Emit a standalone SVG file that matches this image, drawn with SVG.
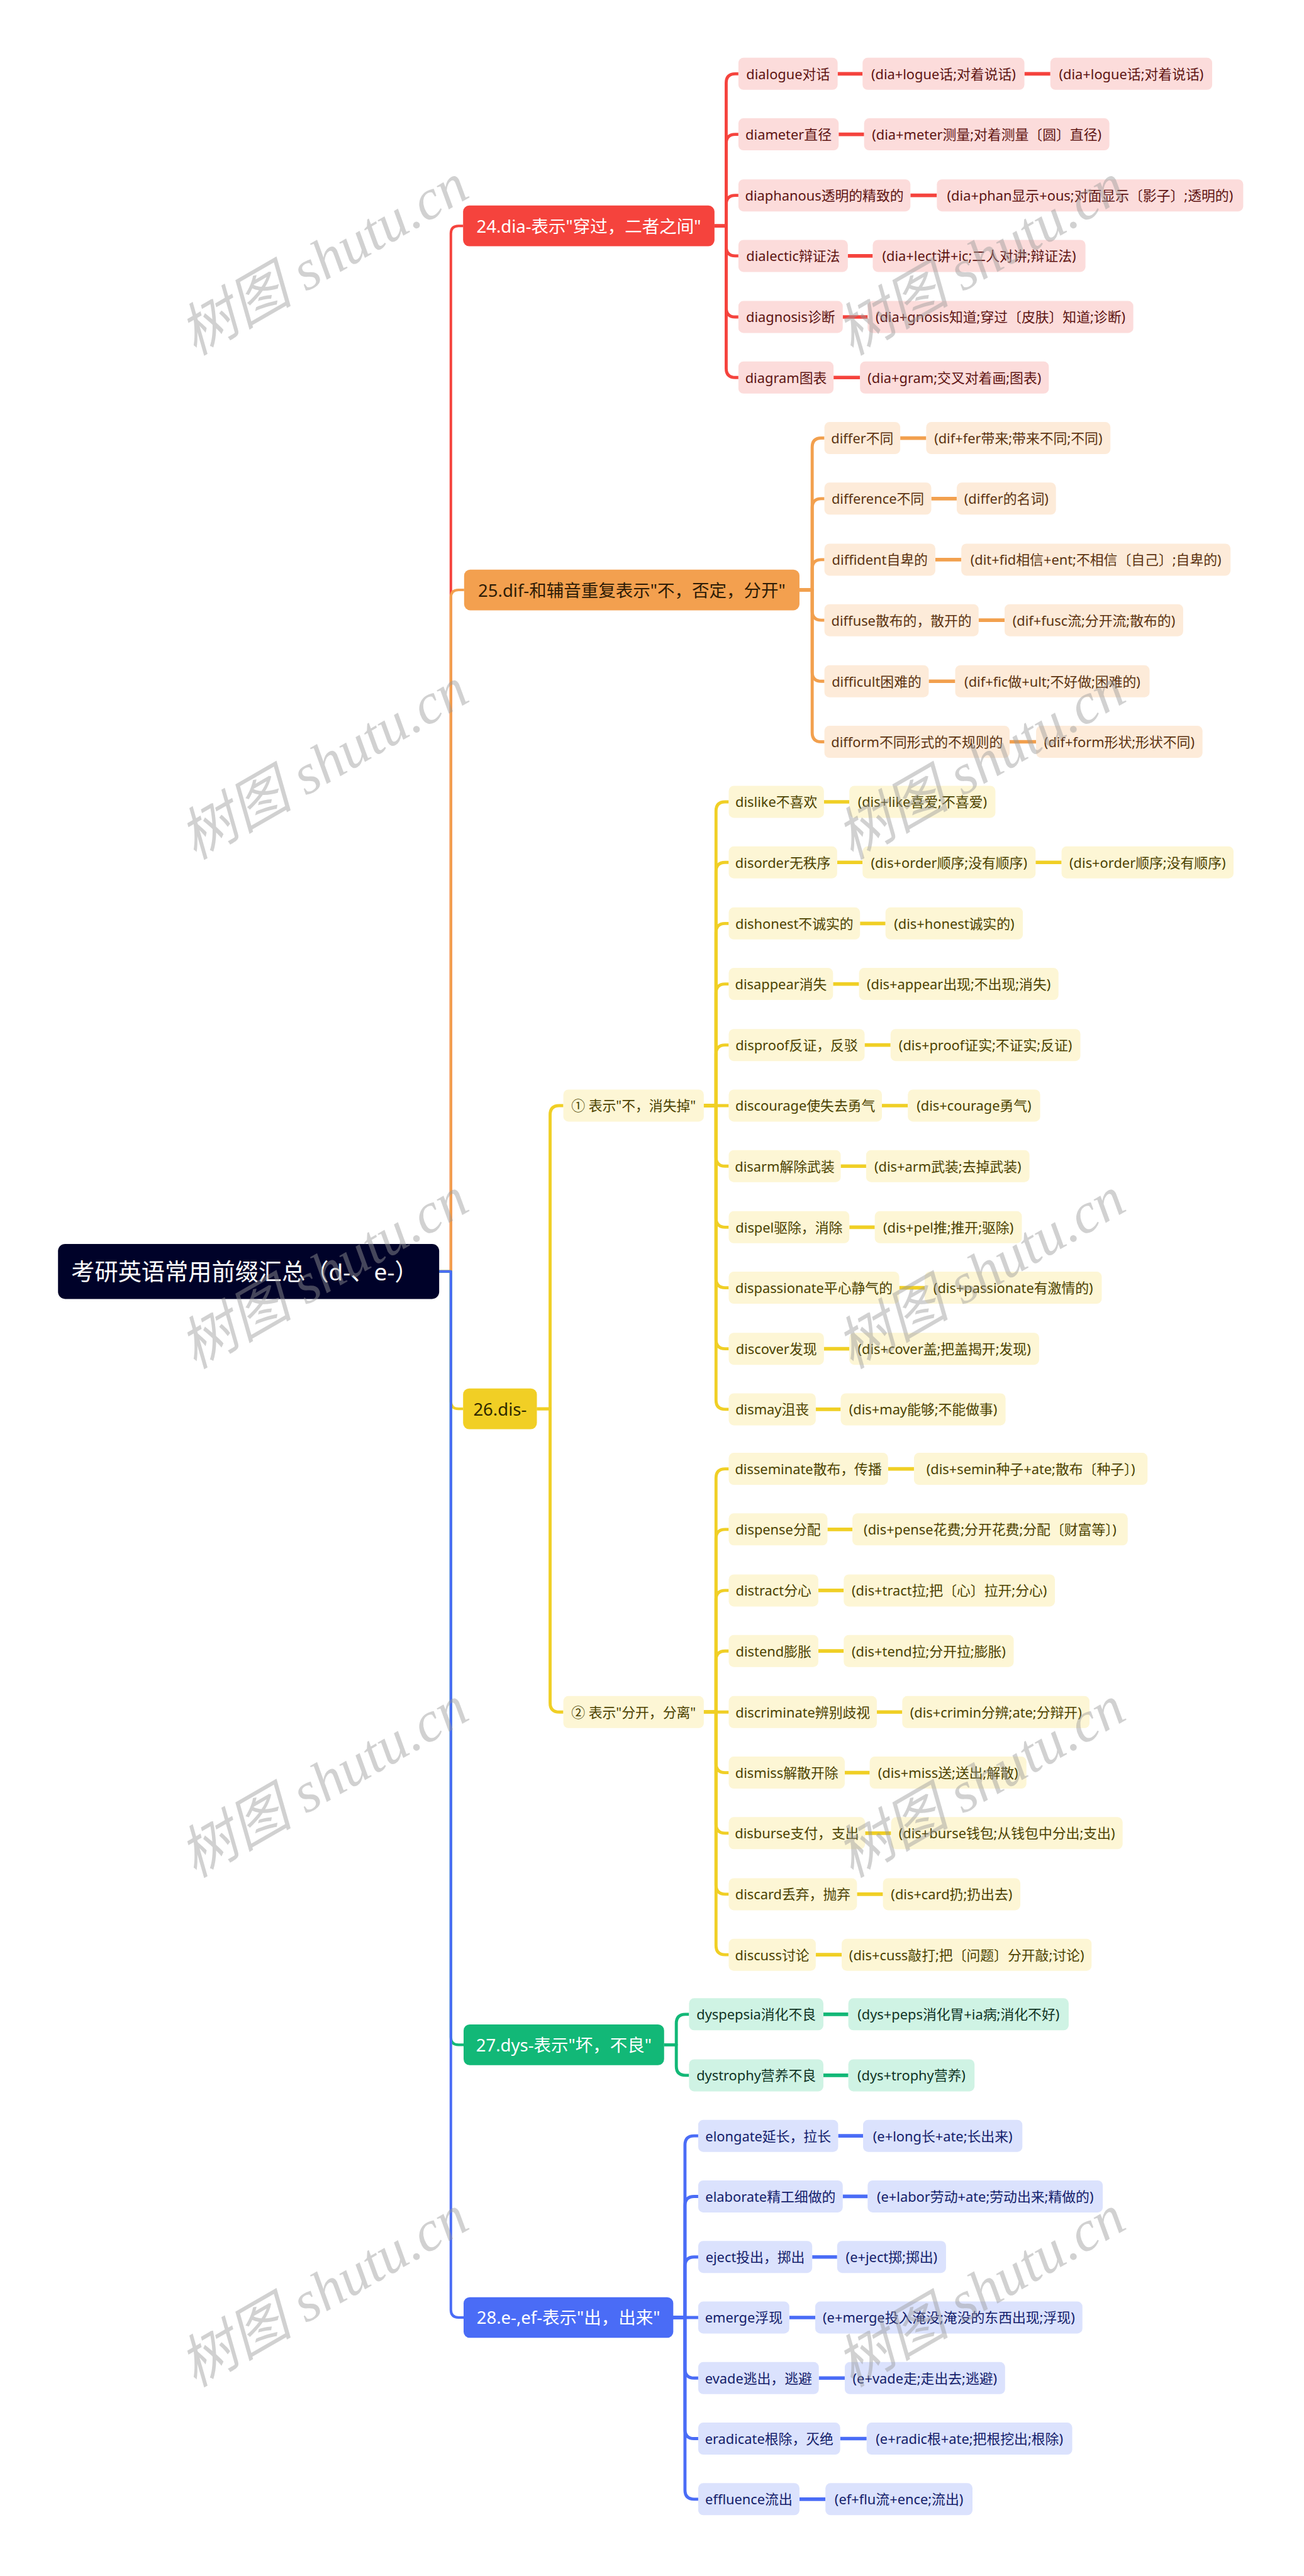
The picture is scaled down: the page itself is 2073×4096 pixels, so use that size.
<svg xmlns="http://www.w3.org/2000/svg" width="2073" height="4096" viewBox="0 0 2073 4096">
<style>
text{font-family:"Noto Sans","Noto Sans CJK SC",sans-serif;dominant-baseline:central;text-anchor:middle;}
.lf text{font-size:27px;}
.lf rect{rx:10px;ry:10px;}
.h1 text{font-size:34px;}
.h1 rect{rx:12px;ry:12px;}
.r rect{fill:#fcdcdb}.r text{fill:#5e1412}
.o rect{fill:#fdebd9}.o text{fill:#5c3310}
.y rect{fill:#fdf6d5}.y text{fill:#4c4200}
.g rect{fill:#cff3e4}.g text{fill:#0f3324}
.b rect{fill:#dbe2fd}.b text{fill:#13206b}
.c{fill:none;stroke-linecap:butt;stroke-linejoin:round}
.c path{stroke-width:6}
.c .t{stroke-width:5}
.c .h{stroke-width:7}
.cr{stroke:#f5433d}.co{stroke:#f2a04e}.cy{stroke:#f0cf25}.cg{stroke:#12b877}.cb{stroke:#4a6cf6}
.wm text{font-family:"Liberation Serif","Noto Sans CJK SC",serif;font-style:italic;font-size:112px;fill:#9a9a9a;fill-opacity:.45}
</style>
<rect width="2073" height="4096" fill="#fff"/>
<g transform="scale(0.809)">
<g id="connectors" class="c">
<g class="cr">
<path class="t" d="M863 2499H886V459Q886 444 901 444H910"/>
<path d="M1404 444H1427V163Q1427 145 1445 145H1451"/>
<path d="M1404 444H1427V282Q1427 264 1445 264H1451"/>
<path d="M1404 444H1427V402Q1427 384 1445 384H1451"/>
<path d="M1404 444H1427V485Q1427 503 1445 503H1451"/>
<path d="M1404 444H1427V605Q1427 623 1445 623H1451"/>
<path d="M1404 444H1427V724Q1427 742 1445 742H1451"/>
<path class="h" d="M1646 145H1695M2013 145H2064M1648 264H1698M1789 384H1841M1666 503H1715M1656 623H1705M1638 742H1690"/>
</g>
<g class="co">
<path class="t" d="M863 2499H886V1174.5Q886 1159.5 901 1159.5H912"/>
<path d="M1571 1159.5H1596V879Q1596 861 1614 861H1620"/>
<path d="M1571 1159.5H1596V998Q1596 980 1614 980H1620"/>
<path d="M1571 1159.5H1596V1118Q1596 1100 1614 1100H1620"/>
<path d="M1571 1159.5H1596V1201Q1596 1219 1614 1219H1620"/>
<path d="M1571 1159.5H1596V1321Q1596 1339 1614 1339H1620"/>
<path d="M1571 1159.5H1596V1440Q1596 1458 1614 1458H1620"/>
<path class="h" d="M1769 861H1820M1830 980H1880M1838 1100H1889M1923 1219H1974M1825 1339H1877M1984 1458H2036"/>
</g>
<g class="cy">
<path class="t" d="M863 2499H886V2754Q886 2769 901 2769H910"/>
<path d="M1055 2769H1081V2191Q1081 2173 1099 2173H1107"/>
<path d="M1055 2769H1081V3347Q1081 3365 1099 3365H1107"/>
<path d="M1383 2173H1407V1594Q1407 1576 1425 1576H1432"/>
<path d="M1383 2173H1407V1713Q1407 1695 1425 1695H1432"/>
<path d="M1383 2173H1407V1833Q1407 1815 1425 1815H1432"/>
<path d="M1383 2173H1407V1952Q1407 1934 1425 1934H1432"/>
<path d="M1383 2173H1407V2072Q1407 2054 1425 2054H1432"/>
<path d="M1383 2173H1432"/>
<path d="M1383 2173H1407V2274Q1407 2292 1425 2292H1432"/>
<path d="M1383 2173H1407V2394Q1407 2412 1425 2412H1432"/>
<path d="M1383 2173H1407V2513Q1407 2531 1425 2531H1432"/>
<path d="M1383 2173H1407V2633Q1407 2651 1425 2651H1432"/>
<path d="M1383 2173H1407V2752Q1407 2770 1425 2770H1432"/>
<path d="M1383 3365H1407V2905Q1407 2887 1425 2887H1432"/>
<path d="M1383 3365H1407V3024Q1407 3006 1425 3006H1432"/>
<path d="M1383 3365H1407V3144Q1407 3126 1425 3126H1432"/>
<path d="M1383 3365H1407V3263Q1407 3245 1425 3245H1432"/>
<path d="M1383 3365H1432"/>
<path d="M1383 3365H1407V3466Q1407 3484 1425 3484H1432"/>
<path d="M1383 3365H1407V3585Q1407 3603 1425 3603H1432"/>
<path d="M1383 3365H1407V3705Q1407 3723 1425 3723H1432"/>
<path d="M1383 3365H1407V3824Q1407 3842 1425 3842H1432"/>
<path class="h" d="M1619 1576H1669M1645 1695H1695M2035 1695H2086M1690 1815H1740M1637 1934H1688M1699 2054H1750M1733 2173H1784M1652 2292H1702M1669 2412H1719M1767 2531H1817M1619 2651H1669M1603 2770H1652"/>
<path class="h" d="M1745 2887H1796M1626 3006H1675M1608 3126H1658M1608 3245H1658M1723 3365H1773M1660 3484H1709M1700 3603H1751M1684 3723H1735M1603 3842H1654"/>
</g>
<g class="cg">
<path class="t" d="M863 2499H886V4004Q886 4019 901 4019H911"/>
<path d="M1305 4019H1329V3977Q1329 3959 1347 3959H1354"/>
<path d="M1305 4019H1329V4061Q1329 4079 1347 4079H1354"/>
<path class="h" d="M1618 3959H1667M1618 4079H1667"/>
</g>
<g class="cb">
<path class="t" d="M863 2499H886V4540Q886 4555 901 4555H911"/>
<path d="M1323 4555H1346V4216Q1346 4198 1364 4198H1372"/>
<path d="M1323 4555H1346V4335Q1346 4317 1364 4317H1372"/>
<path d="M1323 4555H1346V4454Q1346 4436 1364 4436H1372"/>
<path d="M1323 4555H1372"/>
<path d="M1323 4555H1346V4656Q1346 4674 1364 4674H1372"/>
<path d="M1323 4555H1346V4775Q1346 4793 1364 4793H1372"/>
<path d="M1323 4555H1346V4894Q1346 4912 1364 4912H1372"/>
<path class="h" d="M1647 4198H1696M1656 4317H1705M1596 4436H1645M1551 4555H1602M1609 4674H1660M1651 4793H1703M1571 4912H1622"/>
</g>
</g>

<g id="root"><rect x="114" y="2445" width="749" height="108" rx="14" fill="#000229"/><text x="140" y="2499" style="font-size:46px;fill:#fff;text-anchor:start">考研英语常用前缀汇总（d-、e-）</text></g>

<g id="n24" class="h1"><rect x="910" y="404" width="494" height="80" fill="#f5433d"/><text x="1157" y="444" fill="#fff">24.dia-表示"穿过，二者之间"</text></g>
<g id="n25" class="h1"><rect x="912" y="1119.5" width="659" height="80" fill="#f3a04f"/><text x="1241.5" y="1159.5" fill="#2e1c06">25.dif-和辅音重复表示"不，否定，分开"</text></g>
<g id="n26" class="h1"><rect x="910" y="2729" width="145" height="80" fill="#f1cf25"/><text x="982.5" y="2769" fill="#2f2a00">26.dis-</text></g>
<g id="n27" class="h1"><rect x="911" y="3979" width="394" height="80" fill="#12b877"/><text x="1108" y="4019" fill="#fff">27.dys-表示"坏，不良"</text></g>
<g id="n28" class="h1"><rect x="911" y="4515" width="412" height="80" fill="#4a6cf6"/><text x="1117" y="4555" fill="#fff">28.e-,ef-表示"出，出来"</text></g>

<!-- dia -->
<g id="dialogue" class="lf r"><rect x="1451" y="113.5" width="195" height="63"/><text x="1548.5" y="145">dialogue对话</text></g>
<g id="dialogue-a" class="lf r"><rect x="1695" y="113.5" width="318" height="63"/><text x="1854" y="145">(dia+logue话;对着说话)</text></g>
<g id="dialogue-b" class="lf r"><rect x="2064" y="113.5" width="318" height="63"/><text x="2223" y="145">(dia+logue话;对着说话)</text></g>
<g id="diameter" class="lf r"><rect x="1451" y="232.5" width="197" height="63"/><text x="1549.5" y="264">diameter直径</text></g>
<g id="diameter-a" class="lf r"><rect x="1698" y="232.5" width="482" height="63"/><text x="1939" y="264">(dia+meter测量;对着测量〔圆〕直径)</text></g>
<g id="diaphanous" class="lf r"><rect x="1451" y="352.5" width="338" height="63"/><text x="1620" y="384">diaphanous透明的精致的</text></g>
<g id="diaphanous-a" class="lf r"><rect x="1841" y="352.5" width="602" height="63"/><text x="2142" y="384">(dia+phan显示+ous;对面显示〔影子〕;透明的)</text></g>
<g id="dialectic" class="lf r"><rect x="1451" y="471.5" width="215" height="63"/><text x="1558.5" y="503">dialectic辩证法</text></g>
<g id="dialectic-a" class="lf r"><rect x="1715" y="471.5" width="418" height="63"/><text x="1924" y="503">(dia+lect讲+ic;二人对讲;辩证法)</text></g>
<g id="diagnosis" class="lf r"><rect x="1451" y="591.5" width="205" height="63"/><text x="1553.5" y="623">diagnosis诊断</text></g>
<g id="diagnosis-a" class="lf r"><rect x="1705" y="591.5" width="522" height="63"/><text x="1966" y="623">(dia+gnosis知道;穿过〔皮肤〕知道;诊断)</text></g>
<g id="diagram" class="lf r"><rect x="1451" y="710.5" width="187" height="63"/><text x="1544.5" y="742">diagram图表</text></g>
<g id="diagram-a" class="lf r"><rect x="1690" y="710.5" width="371" height="63"/><text x="1875.5" y="742">(dia+gram;交叉对着画;图表)</text></g>

<!-- dif -->
<g id="differ" class="lf o"><rect x="1620" y="829.5" width="149" height="63"/><text x="1694.5" y="861">differ不同</text></g>
<g id="differ-a" class="lf o"><rect x="1820" y="829.5" width="362" height="63"/><text x="2001" y="861">(dif+fer带来;带来不同;不同)</text></g>
<g id="difference" class="lf o"><rect x="1620" y="948.5" width="210" height="63"/><text x="1725" y="980">difference不同</text></g>
<g id="difference-a" class="lf o"><rect x="1880" y="948.5" width="195" height="63"/><text x="1977.5" y="980">(differ的名词)</text></g>
<g id="diffident" class="lf o"><rect x="1620" y="1068.5" width="218" height="63"/><text x="1729" y="1100">diffident自卑的</text></g>
<g id="diffident-a" class="lf o"><rect x="1889" y="1068.5" width="529" height="63"/><text x="2153.5" y="1100">(dit+fid相信+ent;不相信〔自己〕;自卑的)</text></g>
<g id="diffuse" class="lf o"><rect x="1620" y="1187.5" width="303" height="63"/><text x="1771.5" y="1219">diffuse散布的，散开的</text></g>
<g id="diffuse-a" class="lf o"><rect x="1974" y="1187.5" width="351" height="63"/><text x="2149.5" y="1219">(dif+fusc流;分开流;散布的)</text></g>
<g id="difficult" class="lf o"><rect x="1620" y="1307.5" width="205" height="63"/><text x="1722.5" y="1339">difficult困难的</text></g>
<g id="difficult-a" class="lf o"><rect x="1877" y="1307.5" width="382" height="63"/><text x="2068" y="1339">(dif+fic做+ult;不好做;困难的)</text></g>
<g id="difform" class="lf o"><rect x="1620" y="1426.5" width="364" height="63"/><text x="1802" y="1458">difform不同形式的不规则的</text></g>
<g id="difform-a" class="lf o"><rect x="2036" y="1426.5" width="327" height="63"/><text x="2199.5" y="1458">(dif+form形状;形状不同)</text></g>

<!-- dis -->
<g id="dis-1" class="lf y"><rect x="1107" y="2141.5" width="276" height="63"/><text x="1245" y="2173">① 表示"不，消失掉"</text></g>
<g id="dis-2" class="lf y"><rect x="1107" y="3333.5" width="276" height="63"/><text x="1245" y="3365">② 表示"分开，分离"</text></g>

<g id="dislike" class="lf y"><rect x="1432" y="1544.5" width="187" height="63"/><text x="1525.5" y="1576">dislike不喜欢</text></g>
<g id="dislike-a" class="lf y"><rect x="1669" y="1544.5" width="287" height="63"/><text x="1812.5" y="1576">(dis+like喜爱;不喜爱)</text></g>
<g id="disorder" class="lf y"><rect x="1432" y="1663.5" width="213" height="63"/><text x="1538.5" y="1695">disorder无秩序</text></g>
<g id="disorder-a" class="lf y"><rect x="1695" y="1663.5" width="340" height="63"/><text x="1865" y="1695">(dis+order顺序;没有顺序)</text></g>
<g id="disorder-b" class="lf y"><rect x="2086" y="1663.5" width="338" height="63"/><text x="2255" y="1695">(dis+order顺序;没有顺序)</text></g>
<g id="dishonest" class="lf y"><rect x="1432" y="1783.5" width="258" height="63"/><text x="1561" y="1815">dishonest不诚实的</text></g>
<g id="dishonest-a" class="lf y"><rect x="1740" y="1783.5" width="270" height="63"/><text x="1875" y="1815">(dis+honest诚实的)</text></g>
<g id="disappear" class="lf y"><rect x="1432" y="1902.5" width="205" height="63"/><text x="1534.5" y="1934">disappear消失</text></g>
<g id="disappear-a" class="lf y"><rect x="1688" y="1902.5" width="392" height="63"/><text x="1884" y="1934">(dis+appear出现;不出现;消失)</text></g>
<g id="disproof" class="lf y"><rect x="1432" y="2022.5" width="267" height="63"/><text x="1565.5" y="2054">disproof反证，反驳</text></g>
<g id="disproof-a" class="lf y"><rect x="1750" y="2022.5" width="373" height="63"/><text x="1936.5" y="2054">(dis+proof证实;不证实;反证)</text></g>
<g id="discourage" class="lf y"><rect x="1432" y="2141.5" width="301" height="63"/><text x="1582.5" y="2173">discourage使失去勇气</text></g>
<g id="discourage-a" class="lf y"><rect x="1784" y="2141.5" width="260" height="63"/><text x="1914" y="2173">(dis+courage勇气)</text></g>
<g id="disarm" class="lf y"><rect x="1432" y="2260.5" width="220" height="63"/><text x="1542" y="2292">disarm解除武装</text></g>
<g id="disarm-a" class="lf y"><rect x="1702" y="2260.5" width="321" height="63"/><text x="1862.5" y="2292">(dis+arm武装;去掉武装)</text></g>
<g id="dispel" class="lf y"><rect x="1432" y="2380.5" width="237" height="63"/><text x="1550.5" y="2412">dispel驱除，消除</text></g>
<g id="dispel-a" class="lf y"><rect x="1719" y="2380.5" width="289" height="63"/><text x="1863.5" y="2412">(dis+pel推;推开;驱除)</text></g>
<g id="dispassionate" class="lf y"><rect x="1432" y="2499.5" width="335" height="63"/><text x="1599.5" y="2531">dispassionate平心静气的</text></g>
<g id="dispassionate-a" class="lf y"><rect x="1817" y="2499.5" width="348" height="63"/><text x="1991" y="2531">(dis+passionate有激情的)</text></g>
<g id="discover" class="lf y"><rect x="1432" y="2619.5" width="187" height="63"/><text x="1525.5" y="2651">discover发现</text></g>
<g id="discover-a" class="lf y"><rect x="1669" y="2619.5" width="373" height="63"/><text x="1855.5" y="2651">(dis+cover盖;把盖揭开;发现)</text></g>
<g id="dismay" class="lf y"><rect x="1432" y="2738.5" width="171" height="63"/><text x="1517.5" y="2770">dismay沮丧</text></g>
<g id="dismay-a" class="lf y"><rect x="1652" y="2738.5" width="324" height="63"/><text x="1814" y="2770">(dis+may能够;不能做事)</text></g>

<g id="disseminate" class="lf y"><rect x="1432" y="2855.5" width="313" height="63"/><text x="1588.5" y="2887">disseminate散布，传播</text></g>
<g id="disseminate-a" class="lf y"><rect x="1796" y="2855.5" width="459" height="63"/><text x="2025.5" y="2887">(dis+semin种子+ate;散布〔种子〕)</text></g>
<g id="dispense" class="lf y"><rect x="1432" y="2974.5" width="194" height="63"/><text x="1529" y="3006">dispense分配</text></g>
<g id="dispense-a" class="lf y"><rect x="1675" y="2974.5" width="541" height="63"/><text x="1945.5" y="3006">(dis+pense花费;分开花费;分配〔财富等〕)</text></g>
<g id="distract" class="lf y"><rect x="1432" y="3094.5" width="176" height="63"/><text x="1520" y="3126">distract分心</text></g>
<g id="distract-a" class="lf y"><rect x="1658" y="3094.5" width="415" height="63"/><text x="1865.5" y="3126">(dis+tract拉;把〔心〕拉开;分心)</text></g>
<g id="distend" class="lf y"><rect x="1432" y="3213.5" width="176" height="63"/><text x="1520" y="3245">distend膨胀</text></g>
<g id="distend-a" class="lf y"><rect x="1658" y="3213.5" width="334" height="63"/><text x="1825" y="3245">(dis+tend拉;分开拉;膨胀)</text></g>
<g id="discriminate" class="lf y"><rect x="1432" y="3333.5" width="291" height="63"/><text x="1577.5" y="3365">discriminate辨别歧视</text></g>
<g id="discriminate-a" class="lf y"><rect x="1773" y="3333.5" width="368" height="63"/><text x="1957" y="3365">(dis+crimin分辨;ate;分辩开)</text></g>
<g id="dismiss" class="lf y"><rect x="1432" y="3452.5" width="228" height="63"/><text x="1546" y="3484">dismiss解散开除</text></g>
<g id="dismiss-a" class="lf y"><rect x="1709" y="3452.5" width="308" height="63"/><text x="1863" y="3484">(dis+miss送;送出;解散)</text></g>
<g id="disburse" class="lf y"><rect x="1432" y="3571.5" width="268" height="63"/><text x="1566" y="3603">disburse支付，支出</text></g>
<g id="disburse-a" class="lf y"><rect x="1751" y="3571.5" width="455" height="63"/><text x="1978.5" y="3603">(dis+burse钱包;从钱包中分出;支出)</text></g>
<g id="discard" class="lf y"><rect x="1432" y="3691.5" width="252" height="63"/><text x="1558" y="3723">discard丢弃，抛弃</text></g>
<g id="discard-a" class="lf y"><rect x="1735" y="3691.5" width="270" height="63"/><text x="1870" y="3723">(dis+card扔;扔出去)</text></g>
<g id="discuss" class="lf y"><rect x="1432" y="3810.5" width="171" height="63"/><text x="1517.5" y="3842">discuss讨论</text></g>
<g id="discuss-a" class="lf y"><rect x="1654" y="3810.5" width="491" height="63"/><text x="1899.5" y="3842">(dis+cuss敲打;把〔问题〕分开敲;讨论)</text></g>

<!-- dys -->
<g id="dyspepsia" class="lf g"><rect x="1354" y="3927.5" width="264" height="63"/><text x="1486" y="3959">dyspepsia消化不良</text></g>
<g id="dyspepsia-a" class="lf g"><rect x="1667" y="3927.5" width="433" height="63"/><text x="1883.5" y="3959">(dys+peps消化胃+ia病;消化不好)</text></g>
<g id="dystrophy" class="lf g"><rect x="1354" y="4047.5" width="264" height="63"/><text x="1486" y="4079">dystrophy营养不良</text></g>
<g id="dystrophy-a" class="lf g"><rect x="1667" y="4047.5" width="248" height="63"/><text x="1791" y="4079">(dys+trophy营养)</text></g>

<!-- e -->
<g id="elongate" class="lf b"><rect x="1372" y="4166.5" width="275" height="63"/><text x="1509.5" y="4198">elongate延长，拉长</text></g>
<g id="elongate-a" class="lf b"><rect x="1696" y="4166.5" width="313" height="63"/><text x="1852.5" y="4198">(e+long长+ate;长出来)</text></g>
<g id="elaborate" class="lf b"><rect x="1372" y="4285.5" width="284" height="63"/><text x="1514" y="4317">elaborate精工细做的</text></g>
<g id="elaborate-a" class="lf b"><rect x="1705" y="4285.5" width="462" height="63"/><text x="1936" y="4317">(e+labor劳动+ate;劳动出来;精做的)</text></g>
<g id="eject" class="lf b"><rect x="1372" y="4404.5" width="224" height="63"/><text x="1484" y="4436">eject投出，掷出</text></g>
<g id="eject-a" class="lf b"><rect x="1645" y="4404.5" width="214" height="63"/><text x="1752" y="4436">(e+ject掷;掷出)</text></g>
<g id="emerge" class="lf b"><rect x="1372" y="4523.5" width="179" height="63"/><text x="1461.5" y="4555">emerge浮现</text></g>
<g id="emerge-a" class="lf b"><rect x="1602" y="4523.5" width="525" height="63"/><text x="1864.5" y="4555">(e+merge投入淹没;淹没的东西出现;浮现)</text></g>
<g id="evade" class="lf b"><rect x="1372" y="4642.5" width="237" height="63"/><text x="1490.5" y="4674">evade逃出，逃避</text></g>
<g id="evade-a" class="lf b"><rect x="1660" y="4642.5" width="315" height="63"/><text x="1817.5" y="4674">(e+vade走;走出去;逃避)</text></g>
<g id="eradicate" class="lf b"><rect x="1372" y="4761.5" width="279" height="63"/><text x="1511.5" y="4793">eradicate根除，灭绝</text></g>
<g id="eradicate-a" class="lf b"><rect x="1703" y="4761.5" width="404" height="63"/><text x="1905" y="4793">(e+radic根+ate;把根挖出;根除)</text></g>
<g id="effluence" class="lf b"><rect x="1372" y="4880.5" width="199" height="63"/><text x="1471.5" y="4912">effluence流出</text></g>
<g id="effluence-a" class="lf b"><rect x="1622" y="4880.5" width="289" height="63"/><text x="1766.5" y="4912">(ef+flu流+ence;流出)</text></g>

<g id="watermarks" class="wm">
<text x="636" y="510" transform="rotate(-30 636 510)">树图 shutu.cn</text>
<text x="1927" y="510" transform="rotate(-30 1927 510)">树图 shutu.cn</text>
<text x="636" y="1501" transform="rotate(-30 636 1501)">树图 shutu.cn</text>
<text x="1927" y="1501" transform="rotate(-30 1927 1501)">树图 shutu.cn</text>
<text x="636" y="2502" transform="rotate(-30 636 2502)">树图 shutu.cn</text>
<text x="1927" y="2502" transform="rotate(-30 1927 2502)">树图 shutu.cn</text>
<text x="636" y="3502" transform="rotate(-30 636 3502)">树图 shutu.cn</text>
<text x="1927" y="3502" transform="rotate(-30 1927 3502)">树图 shutu.cn</text>
<text x="636" y="4503" transform="rotate(-30 636 4503)">树图 shutu.cn</text>
<text x="1927" y="4503" transform="rotate(-30 1927 4503)">树图 shutu.cn</text>
</g>
</g>
</svg>
